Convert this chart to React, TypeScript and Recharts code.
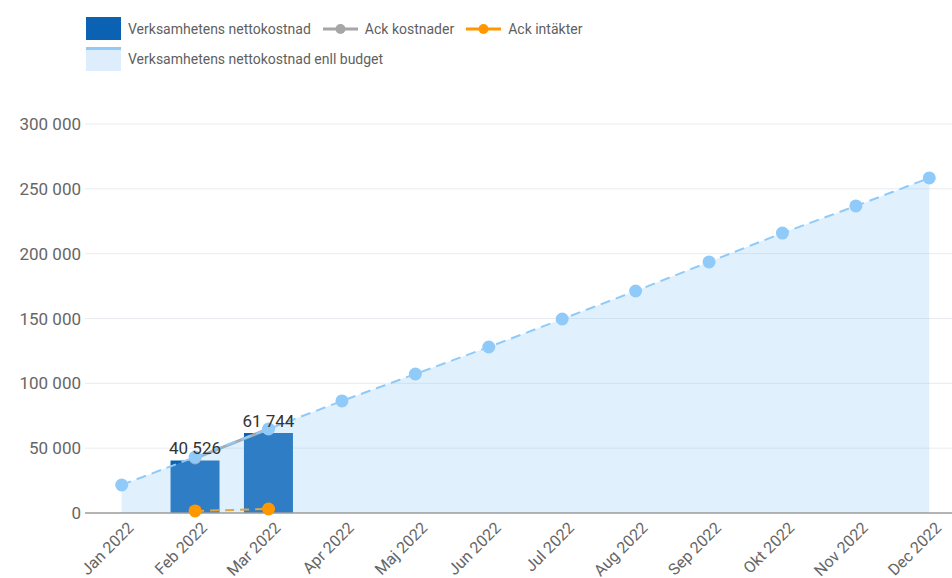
import { ComposedChart, Bar, Line, Area, XAxis, YAxis, CartesianGrid, Legend, LabelList } from 'recharts';

const months = ['Jan 2022', 'Feb 2022', 'Mar 2022', 'Apr 2022', 'Maj 2022', 'Jun 2022', 'Jul 2022', 'Aug 2022', 'Sep 2022', 'Okt 2022', 'Nov 2022', 'Dec 2022'];
const nettokostnad = [null, 40526, 61744, null, null, null, null, null, null, null, null, null];
const ackKostnader = [null, 42100, 64900, null, null, null, null, null, null, null, null, null];
const ackIntakter = [null, 1600, 3100, null, null, null, null, null, null, null, null, null];
const budget = [21600, 43200, 64800, 86400, 107200, 128000, 149600, 171200, 193600, 215900, 236800, 258400];
const yTicks = [0, 50000, 100000, 150000, 200000, 250000, 300000];

const data = months.map((m, i) => ({
  month: m,
  netto: nettokostnad[i],
  kostnader: ackKostnader[i],
  intakter: ackIntakter[i],
  budget: budget[i],
}));

const BAR_COLOR = '#0B62B2';
const BUDGET_COLOR = '#90CAF9';
const GRAY = '#A6A6A6';
const ORANGE = '#FF9800';
const FONT = 'Roboto, sans-serif';

const fmt = (v: any) => (v == null ? '' : String(v).replace(/\B(?=(\d{3})+(?!\d))/g, ' '));

const XTick = ({ x, y, payload }: any) => (
  <g transform={`translate(${x},${y})`}>
    <text x={13} y={8} textAnchor="end" transform="rotate(-45 13 8)" fontSize={16} fill="#666" fontFamily={FONT}>
      {payload.value}
    </text>
  </g>
);

const LineIcon = ({ color }: { color: string }) => (
  <svg width={35} height={12} style={{ display: 'block' }}>
    <line x1={0} y1={6} x2={35} y2={6} stroke={color} strokeWidth={3} />
    <circle cx={17.5} cy={6} r={5} fill={color} />
  </svg>
);

const legendText = { fontSize: 14, color: '#5f5f5f', fontFamily: FONT };

const CustomLegend = () => (
  <div style={{ position: 'absolute', left: 86, top: 17 }}>
    <div style={{ display: 'flex', alignItems: 'center', height: 23 }}>
      <div style={{ width: 35, height: 23, background: BAR_COLOR }} />
      <span style={{ ...legendText, marginLeft: 7 }}>Verksamhetens nettokostnad</span>
      <div style={{ marginLeft: 12 }}><LineIcon color={GRAY} /></div>
      <span style={{ ...legendText, marginLeft: 7 }}>Ack kostnader</span>
      <div style={{ marginLeft: 12 }}><LineIcon color={ORANGE} /></div>
      <span style={{ ...legendText, marginLeft: 7 }}>Ack intäkter</span>
    </div>
    <div style={{ display: 'flex', alignItems: 'center', height: 24, marginTop: 7 }}>
      <div style={{ width: 35, height: 21, background: '#DEEDFC', borderTop: `3px solid ${BUDGET_COLOR}` }} />
      <span style={{ ...legendText, marginLeft: 7 }}>Verksamhetens nettokostnad enll budget</span>
    </div>
  </div>
);

export default function App() {
  return (
    <div style={{ position: 'absolute', left: 0, top: 0, width: 952, height: 578, overflow: 'hidden', background: '#fff' }}>
      <ComposedChart
        width={1000}
        height={578}
        data={data}
        margin={{ top: 124, right: 34, left: 0, bottom: 0 }}
        barCategoryGap="16.5%"
      >
        <CartesianGrid vertical={false} stroke="#E8ECF0" />
        <XAxis
          dataKey="month"
          interval={0}
          height={65}
          tickLine={false}
          axisLine={{ stroke: '#9E9E9E', strokeWidth: 1.5 }}
          tick={<XTick />}
        />
        <YAxis
          width={85}
          domain={[0, 300000]}
          ticks={yTicks}
          tickFormatter={fmt}
          axisLine={false}
          tickLine={false}
          tickSize={0}
          tickMargin={4}
          tick={{ fontSize: 17, fill: '#666', fontFamily: FONT }}
        />
        <Legend content={<CustomLegend />} wrapperStyle={{ top: 0, left: 0 }} />
        <Bar dataKey="netto" fill={BAR_COLOR} isAnimationActive={false}>
          <LabelList dataKey="netto" position="top" formatter={fmt} fontSize={17} fill="#333" fontFamily={FONT} offset={6} />
        </Bar>
        <Line dataKey="kostnader" stroke={GRAY} strokeWidth={3} dot={{ r: 6, fill: GRAY, stroke: 'none' }} isAnimationActive={false} />
        <Line dataKey="intakter" stroke={ORANGE} strokeWidth={2} strokeDasharray="9 6" dot={{ r: 6.5, fill: ORANGE, stroke: 'none' }} isAnimationActive={false} />
        <Area
          dataKey="budget"
          type="linear"
          zIndex={450}
          stroke={BUDGET_COLOR}
          strokeWidth={2}
          strokeDasharray="10 6"
          fill={BUDGET_COLOR}
          fillOpacity={0.28}
          dot={{ r: 6.5, fill: BUDGET_COLOR, stroke: 'none', fillOpacity: 1 }}
          isAnimationActive={false}
        />
      </ComposedChart>
    </div>
  );
}
